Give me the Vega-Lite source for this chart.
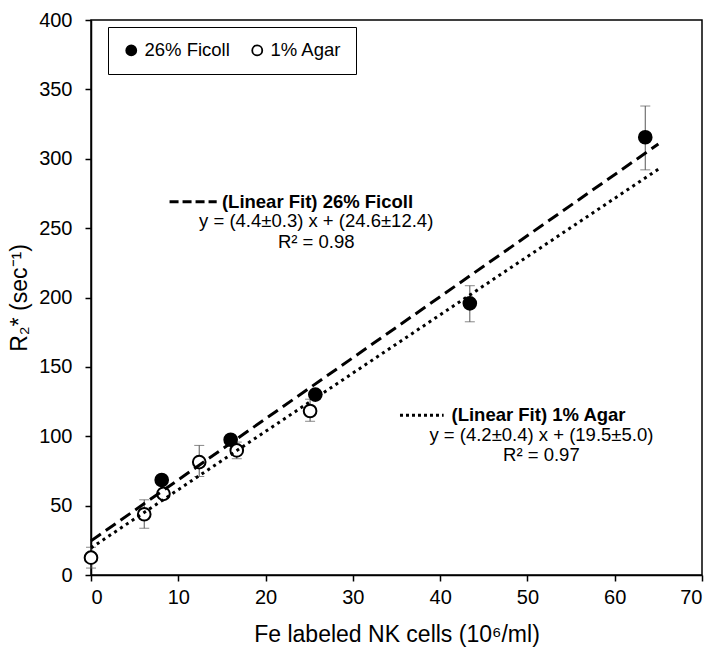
{
  "$schema": "https://vega.github.io/schema/vega-lite/v6.json",
  "width": 611,
  "height": 555,
  "autosize": "none",
  "padding": {"left": 91, "top": 20, "right": 18, "bottom": 80},
  "background": "white",
  "config": {
    "font": "Liberation Sans",
    "view": {"stroke": "black", "strokeWidth": 1.5},
    "axis": {
      "grid": false,
      "domainColor": "black",
      "domainWidth": 1.5,
      "tickColor": "black",
      "tickWidth": 1.5,
      "tickSize": 6,
      "labelFont": "Liberation Sans",
      "labelFontSize": 20,
      "labelColor": "black",
      "titleFont": "Liberation Sans",
      "titleFontSize": 23,
      "titleFontWeight": "normal",
      "titleColor": "black"
    }
  },
  "datasets": {
    "points": [
      {"series": "26% Ficoll", "x": 8.1, "y": 68.5, "lo": 66, "hi": 71},
      {"series": "26% Ficoll", "x": 16.0, "y": 97.5, "lo": 95, "hi": 100},
      {"series": "26% Ficoll", "x": 25.7, "y": 130, "lo": 127, "hi": 133},
      {"series": "26% Ficoll", "x": 43.4, "y": 195.8, "lo": 182.5, "hi": 208.5},
      {"series": "26% Ficoll", "x": 63.5, "y": 315.5, "lo": 292, "hi": 338},
      {"series": "1% Agar", "x": 0, "y": 12.5, "lo": 5, "hi": 20},
      {"series": "1% Agar", "x": 6.1, "y": 43.8, "lo": 33.7, "hi": 54.2},
      {"series": "1% Agar", "x": 8.3, "y": 58.5, "lo": 56, "hi": 61},
      {"series": "1% Agar", "x": 12.4, "y": 81.4, "lo": 71, "hi": 93.4},
      {"series": "1% Agar", "x": 16.7, "y": 89.8, "lo": 83.8, "hi": 95.8},
      {"series": "1% Agar", "x": 25.1, "y": 118.2, "lo": 110.8, "hi": 126.7}
    ],
    "fits": [
      {"series": "Ficoll fit", "x": 0, "y": 24.6},
      {"series": "Ficoll fit", "x": 65, "y": 310.6},
      {"series": "Agar fit", "x": 0, "y": 19.5},
      {"series": "Agar fit", "x": 65, "y": 292.5}
    ],
    "keyFicoll": [
      {"x": 9.0, "y": 269},
      {"x": 14.4, "y": 269}
    ],
    "keyAgar": [
      {"x": 35.4, "y": 115.1},
      {"x": 40.4, "y": 115.1}
    ],
    "titles": [
      {"x": 15.0, "y": 269, "label": "(Linear Fit) 26% Ficoll"},
      {"x": 41.3, "y": 115.1, "label": "(Linear Fit) 1% Agar"}
    ],
    "eqs": [
      {"x": 25.8, "y": 254.8, "label": "y = (4.4±0.3) x + (24.6±12.4)"},
      {"x": 25.8, "y": 240.3, "label": "R² = 0.98"},
      {"x": 51.6, "y": 100.6, "label": "y = (4.2±0.4) x + (19.5±5.0)"},
      {"x": 51.6, "y": 86.2, "label": "R² = 0.97"}
    ]
  },
  "encoding": {
    "x": {
      "field": "x", "type": "quantitative",
      "scale": {"domain": [0, 70], "nice": false, "zero": false},
      "axis": {"values": [0, 10, 20, 30, 40, 50, 60, 70], "title": "Fe labeled NK cells (10⁶/ml)", "labelPadding": 6, "titlePadding": 16}
    },
    "y": {
      "field": "y", "type": "quantitative",
      "scale": {"domain": [0, 400], "nice": false},
      "axis": {"values": [0, 50, 100, 150, 200, 250, 300, 350, 400], "title": "R₂* (sec⁻¹)", "labelPadding": 13, "titlePadding": 7}
    }
  },
  "layer": [
    {
      "data": {"name": "points"},
      "mark": {"type": "rule", "color": "#555555", "strokeWidth": 1},
      "encoding": {"y": {"field": "lo", "type": "quantitative"}, "y2": {"field": "hi"}}
    },
    {
      "data": {"name": "points"},
      "mark": {"type": "tick", "orient": "horizontal", "color": "#555555", "thickness": 1, "size": 10},
      "encoding": {"y": {"field": "lo", "type": "quantitative"}}
    },
    {
      "data": {"name": "points"},
      "mark": {"type": "tick", "orient": "horizontal", "color": "#555555", "thickness": 1, "size": 10},
      "encoding": {"y": {"field": "hi", "type": "quantitative"}}
    },
    {
      "data": {"name": "points"},
      "mark": {"type": "point", "shape": "circle", "filled": true, "size": 160, "stroke": "black", "strokeWidth": 2, "opacity": 1},
      "encoding": {
        "fill": {
          "field": "series", "type": "nominal",
          "scale": {"domain": ["26% Ficoll", "1% Agar"], "range": ["black", "white"]},
          "legend": {
            "title": null,
            "orient": "none",
            "legendX": 17,
            "legendY": 7,
            "direction": "horizontal",
            "strokeColor": "black",
            "fillColor": "white",
            "padding": 14,
            "labelFontSize": 18.5,
            "labelFont": "Liberation Sans",
            "labelColor": "black",
            "symbolStrokeColor": "black",
            "symbolStrokeWidth": 1.8,
            "symbolSize": 100,
            "symbolType": "circle",
            "labelOffset": 4,
            "columnPadding": 18
          }
        }
      }
    },
    {
      "data": {"name": "fits"},
      "transform": [{"filter": "datum.series == 'Ficoll fit'"}],
      "mark": {"type": "line", "color": "black", "strokeWidth": 3, "strokeDash": [12, 6]},
      "encoding": {}
    },
    {
      "data": {"name": "fits"},
      "transform": [{"filter": "datum.series == 'Agar fit'"}],
      "mark": {"type": "line", "color": "black", "strokeWidth": 3, "strokeDash": [3, 4]},
      "encoding": {}
    },
    {
      "data": {"name": "keyFicoll"},
      "mark": {"type": "line", "color": "black", "strokeWidth": 3, "strokeDash": [9, 4]},
      "encoding": {}
    },
    {
      "data": {"name": "keyAgar"},
      "mark": {"type": "line", "color": "black", "strokeWidth": 3, "strokeDash": [3, 3]},
      "encoding": {}
    },
    {
      "data": {"name": "titles"},
      "mark": {"type": "text", "align": "left", "baseline": "middle", "fontSize": 18.5, "fontWeight": "bold", "font": "Liberation Sans", "color": "black"},
      "encoding": {"text": {"field": "label"}}
    },
    {
      "data": {"name": "eqs"},
      "mark": {"type": "text", "align": "center", "baseline": "middle", "fontSize": 18.5, "font": "Liberation Sans", "color": "black"},
      "encoding": {"text": {"field": "label"}}
    }
  ]
}
